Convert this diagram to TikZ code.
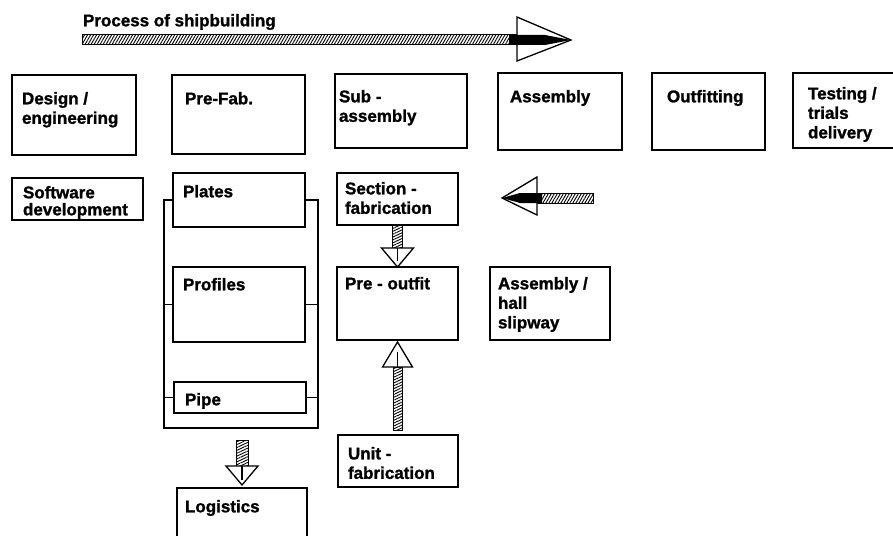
\documentclass[tikz,border=0pt]{standalone}
\usepackage{fontspec}
\setmainfont{Liberation Sans}[BoldFeatures={FakeBold=1.3}]
\usetikzlibrary{fit,calc,patterns.meta}
\tikzset{
  bigbox/.style={draw, line width=2.6pt, inner sep=0pt, outer sep=0pt},
  smallbox/.style={draw, line width=1.3pt, inner sep=0pt, outer sep=0pt},
  txt/.style={inner sep=0pt, outer sep=0pt, anchor=north west, align=left,
    font=\fontsize{17}{19.5}\selectfont\bfseries},
  shaft/.style={draw, line width=1pt, pattern={Lines[angle=60,distance=2.6pt,line width=0.9pt]}},
  vshaft/.style={draw, line width=1pt, pattern={Lines[angle=25,distance=2.6pt,line width=0.9pt]}},
  head/.style={draw, line width=1.3pt, fill=white, line join=miter},
  bracket/.style={draw, line width=1.1pt},
}
\newcommand\bx[7]{\node[#1, fit={(#3,#4) (#5,#6)}] (#2) {};}
\begin{document}
\begin{tikzpicture}[x=1pt,y=-1pt]
\clip (0,0) rectangle (893,535);
\fill[white] (0,0) rectangle (893,535);

% title and main process arrow
\node[txt] (title) at (83,14) {Process of shipbuilding};
\coordinate (ta1) at (82,40);
\coordinate (ta2) at (571,40);
\draw[shaft] ($(ta1)+(0,-5)$) rectangle ($(ta2)+(-54,5)$);
\draw[head] ($(ta2)+(-54,-23)$) -- ($(ta2)+(-54,21)$) -- (ta2) -- cycle;
\fill[black] ($(ta2)+(-62,-5)$) -- ($(ta2)+(-26,-5)$) -- (ta2) -- ($(ta2)+(-26,5)$) -- ($(ta2)+(-62,5)$) -- cycle;

% top row
\bx{bigbox}{des}{12}{75}{136}{155}{}
\bx{bigbox}{pre}{172}{75}{305}{154}{}
\bx{bigbox}{sub}{335}{74}{467}{148}{}
\bx{bigbox}{asm}{498}{73}{622}{150}{}
\bx{bigbox}{out}{652}{73}{765}{150}{}
\bx{bigbox}{tst}{793}{73}{905}{148}{}
\node[txt] (des-t) at (22,92) {Design /\\engineering};
\node[txt] (pre-t) at (185,92) {Pre-Fab.};
\node[txt] (sub-t) at (339,90) {Sub -\\assembly};
\node[txt] (asm-t) at (510,90) {Assembly};
\node[txt] (out-t) at (667,90) {Outfitting};
\node[txt] (tst-t) at (808,87) {Testing /\\trials\\delivery};

% second level
\bx{smallbox}{sw}{12}{178}{143}{220}{}
\bx{smallbox}{pl}{173}{173}{305}{227}{}
\bx{smallbox}{pr}{173}{267}{305}{342}{}
\bx{smallbox}{pp}{174}{382}{306}{413}{}
\bx{smallbox}{lg}{177}{488}{307}{545}{}
\bx{smallbox}{sec}{337}{173}{458}{225}{}
\bx{smallbox}{po}{337}{267}{458}{340}{}
\bx{smallbox}{uf}{338}{435}{458}{487}{}
\bx{smallbox}{ah}{490}{267}{610}{340}{}
\node[txt, font=\fontsize{17}{17}\selectfont\bfseries] (sw-t) at (23,186) {Software\\development};
\node[txt] (pl-t) at (183,185) {Plates};
\node[txt] (pr-t) at (183,278) {Profiles};
\node[txt] (pp-t) at (185,393) {Pipe};
\node[txt] (lg-t) at (185,500) {Logistics};
\node[txt] (sec-t) at (345,182) {Section -\\fabrication};
\node[txt] (po-t) at (345,277) {Pre - outfit};
\node[txt] (uf-t) at (348,447) {Unit -\\fabrication};
\node[txt] (ah-t) at (498,277) {Assembly /\\hall\\slipway};

% bracket around pre-fab items
\coordinate (bl) at (164,428);
\coordinate (br) at (318,428);
\draw[bracket] (pl.west) -| (bl) -- (br) |- (pl.east);
\draw[bracket] (pr.west) -- (pr.west -| bl);
\draw[bracket] (pr.east) -- (pr.east -| br);
\draw[bracket] (pp.west) -- (pp.west -| bl);
\draw[bracket] (pp.east) -- (pp.east -| br);

% bracket -> logistics
\coordinate (la0) at ($(lg.north)+(0,-48)$);
\draw[vshaft] ($(la0)+(-6,0)$) rectangle ($(lg.north)+(6,-22)$);
\draw[head] ($(lg.north)+(-16,-22)$) -- ($(lg.north)+(16,-22)$) -- ($(lg.north)+(0,-3)$) -- cycle;
\draw[line width=1.6pt] ($(lg.north)+(0,-22)$) -- ($(lg.north)+(0,-8)$);

% section -> pre-outfit
\draw[vshaft] ($(sec.south)+(-5,0)$) rectangle ($(po.north)+(5,-19)$);
\draw[head] ($(po.north)+(-16,-19)$) -- ($(po.north)+(16,-19)$) -- (po.north) -- cycle;
\draw[line width=1.6pt] ($(po.north)+(0,-19)$) -- ($(po.north)+(0,-6)$);

% unit -> pre-outfit
\draw[vshaft] ($(uf.north)+(-5,-5)$) rectangle ($(po.south)+(5,27)$);
\draw[head] ($(po.south)+(-15,27)$) -- ($(po.south)+(15,27)$) -- ($(po.south)+(0,2)$) -- cycle;
\draw[line width=1.6pt] ($(po.south)+(0,27)$) -- ($(po.south)+(0,12)$);

% left-pointing arrow
\coordinate (lf1) at (593,198);
\coordinate (lf2) at (502,198);
\draw[shaft] ($(lf1)+(0,-5)$) rectangle ($(lf2)+(35,5)$);
\draw[head] ($(lf2)+(35,-21)$) -- ($(lf2)+(35,17)$) -- (lf2) -- cycle;
\fill[black] ($(lf2)+(40,-5)$) -- ($(lf2)+(18,-5)$) -- (lf2) -- ($(lf2)+(18,5)$) -- ($(lf2)+(40,5)$) -- cycle;
\end{tikzpicture}
\end{document}
